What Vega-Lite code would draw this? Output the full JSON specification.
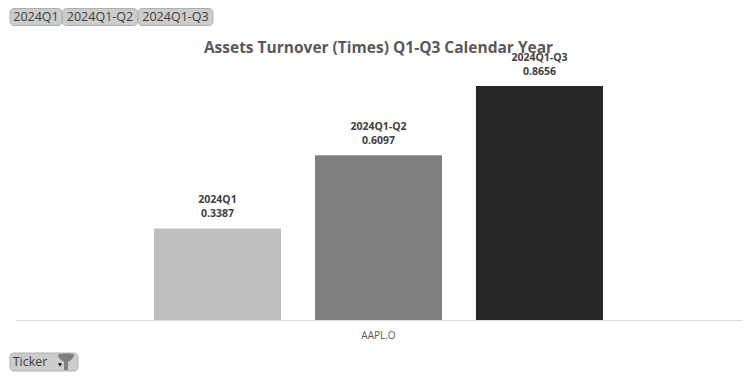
{
"$schema":"https://vega.github.io/schema/vega-lite/v6.json",
"width":727,"height":260,
"autosize":{"type":"none"},
"padding":{"left":15,"right":14,"top":60,"bottom":58},
"background":"#ffffff",
"view":{"stroke":null},
"title":{"text":"Assets Turnover (Times) Q1-Q3 Calendar Year","font":"Open Sans","fontSize":15.5,"fontWeight":"bold","color":"#595959","anchor":"middle","offset":-48},
"layer":[
{"data":{"values":[
{"ticker":"AAPL.O","period":"2024Q1","turnover":0.3387},
{"ticker":"AAPL.O","period":"2024Q1-Q2","turnover":0.6097},
{"ticker":"AAPL.O","period":"2024Q1-Q3","turnover":0.8656}]},
"encoding":{
"x":{"field":"ticker","type":"nominal","scale":{"paddingInner":0,"paddingOuter":0.3096},"axis":{"title":null,"labelAngle":0,"ticks":false,"domainColor":"#d9d9d9","domainWidth":1,"labelColor":"#595959","labelFont":"Open Sans","labelFontSize":10,"labelPadding":10,"grid":false}},
"xOffset":{"field":"period","type":"nominal","sort":null,"scale":{"paddingInner":0.211,"paddingOuter":0}},
"y":{"field":"turnover","type":"quantitative","scale":{"domain":[0,0.9617],"nice":false,"zero":true},"axis":null}
},
"layer":[
{"mark":{"type":"bar"},"encoding":{"color":{"field":"period","type":"nominal","legend":null,"scale":{"domain":["2024Q1","2024Q1-Q2","2024Q1-Q3"],"range":["#bfbfbf","#7f7f7f","#262626"]}}}},
{"mark":{"type":"text","font":"Open Sans","fontSize":10.5,"fontWeight":"bold","color":"#404040","baseline":"middle","dy":-28,"clip":false},"encoding":{"text":{"field":"period"}}},
{"mark":{"type":"text","font":"Open Sans","fontSize":10.5,"fontWeight":"bold","color":"#404040","baseline":"middle","dy":-14,"clip":false},"encoding":{"text":{"field":"turnover","format":".4f"}}}
]},
{"data":{"values":[
{"item":"2024Q1","slot":1,"line":1,"kind":"chip"},
{"item":"Ticker","slot":2,"line":2,"kind":"chip"},
{"item":"arrow","slot":3,"line":3,"kind":"arrow"},
{"item":"funnel","slot":4,"line":2,"kind":"funnel"},
{"item":"2024Q1-Q2","slot":5,"line":1,"kind":"chip"},
{"item":"2024Q1-Q3","slot":6,"line":1,"kind":"chip"}]},
"encoding":{
"x":{"field":"slot","type":"quantitative","scale":{"domain":[1,2,3,4,5,6],"range":[21,29,45,51,85,160.5],"nice":false,"zero":false},"axis":null},
"y":{"field":"line","type":"quantitative","scale":{"domain":[1,2,3],"range":[-43,302,305],"nice":false,"zero":false},"axis":null}
},
"layer":[
{"transform":[{"filter":"datum.kind=='chip'"}],"mark":{"type":"rect","width":{"expr":"datum.item=='2024Q1'?52:datum.item=='Ticker'?68:75"},"height":{"expr":"datum.item=='Ticker'?18:17"},"cornerRadius":4,"fill":"#cccccc","stroke":"#b0b0b0","strokeWidth":1,"clip":false}},
{"transform":[{"filter":"datum.kind=='chip' && datum.item!='Ticker'"}],"mark":{"type":"text","font":"Open Sans","fontSize":12.5,"color":"#404040","baseline":"middle"},"encoding":{"text":{"field":"item"}}},
{"transform":[{"filter":"datum.item=='Ticker'"}],"mark":{"type":"text","font":"Open Sans","fontSize":12.5,"color":"#404040","baseline":"middle","dx":-14},"encoding":{"text":{"field":"item"}}},
{"transform":[{"filter":"datum.kind=='funnel'"}],"mark":{"type":"point","shape":"M-1,-0.9C-0.7,-1.1,0.7,-1.1,1,-0.9C1,-0.4,0.5,-0.2,0.25,0L0.25,1L-0.25,1L-0.25,0C-0.5,-0.2,-1,-0.4,-1,-0.9Z","size":256,"filled":true,"color":"#7f7f7f","opacity":1}},
{"transform":[{"filter":"datum.kind=='arrow'"}],"mark":{"type":"point","shape":"triangle-down","size":16,"filled":true,"color":"#111111","opacity":1}}
]}
],
"resolve":{"scale":{"x":"independent","y":"independent"},"axis":{"x":"independent","y":"independent"}}
}
